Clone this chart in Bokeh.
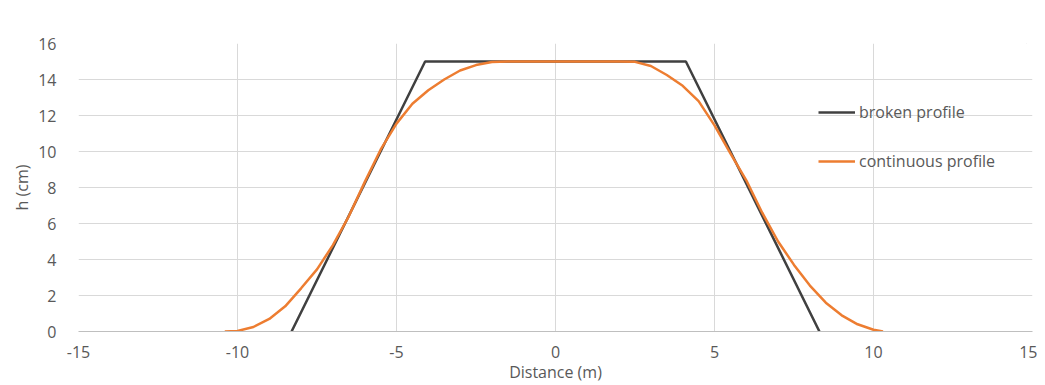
from bokeh.plotting import figure
from bokeh.models import Range1d, FixedTicker, Legend, LegendItem
from bokeh.embed import file_html
from bokeh.resources import INLINE

# Data
broken_x = [-8.3, -4.1, 4.1, 8.3]
broken_h = [0, 15, 15, 0]

cont_x = [-10.4, -10, -9.5, -9, -8.5, -8, -7.5, -7, -6.5, -6, -5.5, -5, -4.5, -4,
          -3.5, -3, -2.5, -2, -1.5, -1, -0.5, 0, 0.5, 1, 1.5, 2, 2.5, 3, 3.5, 4,
          4.5, 5, 5.5, 6, 6.5, 7, 7.5, 8, 8.5, 9, 9.5, 10, 10.3]
cont_h = [0, 0.03, 0.25, 0.7, 1.4, 2.4, 3.45, 4.8, 6.4, 8.3, 10.1, 11.55, 12.65, 13.4,
          14.0, 14.5, 14.8, 14.97, 15, 15, 15, 15, 15, 15, 15, 15, 14.98, 14.75, 14.25, 13.65,
          12.8, 11.45, 9.9, 8.4, 6.6, 5.0, 3.7, 2.55, 1.6, 0.9, 0.4, 0.1, 0]

x_ticks = [-15, -10, -5, 0, 5, 10, 15]
x_tick_labels = ["-15", "-10", "-5", "0", "5", "10", "15"]
y_ticks = [0, 2, 4, 6, 8, 10, 12, 14, 16]

FONT = "Open Sans"
TXT = "#595959"
GRID = "#d9d9d9"

p = figure(width=1037, height=385, output_backend="svg", toolbar_location=None,
           x_range=Range1d(-15, 15), y_range=Range1d(0, 16),
           min_border_left=78, min_border_right=5, min_border_top=43, min_border_bottom=51)
p.title = None
p.outline_line_color = None
p.background_fill_color = "white"
p.border_fill_color = "white"
p.styles = {"outline": "1px solid #d9d9d9", "outline-offset": "-11px"}

p.xaxis.ticker = FixedTicker(ticks=x_ticks)
p.xaxis.major_label_overrides = {t: s for t, s in zip(x_ticks, x_tick_labels)}
p.yaxis.ticker = FixedTicker(ticks=y_ticks)
for ax in (p.xaxis[0], p.yaxis[0]):
    ax.major_tick_line_color = None
    ax.minor_tick_line_color = None
    ax.major_label_text_font = FONT
    ax.major_label_text_font_size = "16px"
    ax.major_label_text_color = TXT
    ax.axis_label_text_font = FONT
    ax.axis_label_text_font_style = "normal"
    ax.axis_label_text_color = TXT
p.xaxis.axis_line_color = "#bfbfbf"
p.yaxis.axis_line_color = None
p.xaxis.major_label_standoff = 8
p.xaxis.axis_label = "Distance (m)"
p.xaxis.axis_label_text_font_size = "16px"
p.xaxis.axis_label_standoff = 0
p.yaxis.major_label_standoff = 16
p.yaxis.axis_label = "h (cm)"
p.yaxis.axis_label_text_font_size = "16px"
p.yaxis.axis_label_standoff = 2

p.xgrid.ticker = FixedTicker(ticks=x_ticks)
p.ygrid.ticker = FixedTicker(ticks=y_ticks)
p.grid.grid_line_color = GRID
p.grid.grid_line_width = 1

r1 = p.line(broken_x, broken_h, line_color="#404040", line_width=2.5)
r2 = p.line(cont_x, cont_h, line_color="#ED7D31", line_width=2.5, line_join="round")

legend = Legend(items=[LegendItem(label="broken profile", renderers=[r1]),
                       LegendItem(label="continuous profile", renderers=[r2])],
                location=(740, 159), padding=0, margin=0, spacing=27,
                glyph_width=37, glyph_height=20, label_height=20, label_standoff=4,
                border_line_color=None, background_fill_alpha=0,
                label_text_font=FONT, label_text_font_size="16px", label_text_color=TXT)
p.add_layout(legend)

open("out.html", "w").write(file_html(p, INLINE))
